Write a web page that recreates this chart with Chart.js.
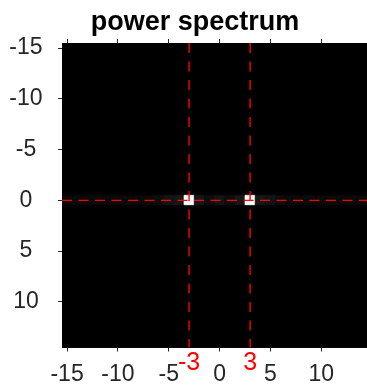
<!DOCTYPE html>
<html>
<head>
<meta charset="utf-8">
<script src="https://cdn.jsdelivr.net/npm/chart.js@4/dist/chart.umd.min.js"></script>
<style>
  html, body { margin: 0; padding: 0; background: #fff; }
  canvas { display: block; }
</style>
</head>
<body>
<canvas id="spectrum" width="367" height="385"></canvas>
<script>
// frequency bins (columns / rows of the shifted spectrum)
const colFreqs = [-15, -14, -13, -12, -11, -10, -9, -8, -7, -6, -5, -4, -3, -2, -1, 0, 1, 2, 3, 4, 5, 6, 7, 8, 9, 10, 11, 12, 13, 14];
const rowFreqs = [-15, -14, -13, -12, -11, -10, -9, -8, -7, -6, -5, -4, -3, -2, -1, 0, 1, 2, 3, 4, 5, 6, 7, 8, 9, 10, 11, 12, 13, 14];
// normalised power along row 0 (all other rows are ~0 / black)
const powerRow0 = [0.04, 0.04, 0.04, 0.04, 0.04, 0.04, 0.04, 0.04, 0.04, 0.05, 0.08, 0.09, 1.00, 0.09, 0.05, 0.08, 0.05, 0.09, 1.00, 0.09, 0.08, 0.05, 0.04, 0.04, 0.04, 0.04, 0.04, 0.04, 0.04, 0.04];
const peakX = [-3, 3];
const peakY = 0;
const xTicks = [-15, -10, -5, 0, 5, 10];
const yTicks = [-15, -10, -5, 0, 5, 10];
const xRange = [-15.5, 14.5];
const yRange = [-15.5, 14.5];

Chart.defaults.font.family = 'Liberation Sans, Arial, sans-serif';

// build cells of the image from the arrays
const cells = [];
rowFreqs.forEach(function(fy) {
  colFreqs.forEach(function(fx, i) {
    cells.push({ x: fx, y: fy, v: fy === peakY ? powerRow0[i] : 0 });
  });
});

function grey(v) {
  const g = Math.round(255 * v);
  return 'rgb(' + g + ',' + g + ',' + g + ')';
}

// cell size in pixels from the x scale
function cellRadius(ctx) {
  const s = ctx.chart.scales.x;
  if (!s) return 5;
  return Math.abs(s.getPixelForValue(1) - s.getPixelForValue(0)) / Math.SQRT2;
}

const axisColor = '#262626';

const datasets = [{
  label: 'power',
  data: cells,
  pointStyle: 'rect',
  radius: cellRadius,
  hoverRadius: cellRadius,
  backgroundColor: function(ctx) { return ctx.raw ? grey(ctx.raw.v) : '#000'; },
  borderColor: function(ctx) { return ctx.raw ? grey(ctx.raw.v) : '#000'; },
  borderWidth: 0.6,
  order: 2
}];

// dashed red guide lines through the peaks
peakX.forEach(function(px) {
  datasets.push({
    label: 'x=' + px,
    data: [{ x: px, y: yRange[0] }, { x: px, y: yRange[1] }],
    showLine: true,
    borderColor: '#ff0000',
    borderWidth: 1.4,
    borderDash: [10, 8.5],
    pointRadius: 0,
    order: 1
  });
});
datasets.push({
  label: 'y=' + peakY,
  data: [{ x: xRange[0], y: peakY }, { x: xRange[1], y: peakY }],
  showLine: true,
  borderColor: '#ff0000',
  borderWidth: 1.4,
  borderDash: [10, 6.5],
  pointRadius: 0,
  order: 1
});

// black background behind the image, title offset, red peak labels under the axis
const extras = {
  id: 'extras',
  afterLayout: function(chart) {
    // title is centred a bit right of the canvas centre
    if (chart.titleBlock) chart.titleBlock.left = 23;
  },
  beforeDatasetsDraw: function(chart) {
    const a = chart.chartArea;
    const c = chart.ctx;
    c.save();
    c.fillStyle = '#000';
    c.fillRect(a.left, a.top, a.right - a.left, a.bottom - a.top);
    c.restore();
  },
  afterDraw: function(chart) {
    const c = chart.ctx;
    const sx = chart.scales.x;
    c.save();
    c.fillStyle = '#ff0000';
    c.font = '25px Liberation Sans, Arial, sans-serif';
    c.textAlign = 'center';
    c.textBaseline = 'middle';
    peakX.forEach(function(px) {
      c.fillText(String(px), sx.getPixelForValue(px), chart.chartArea.bottom + 16);
    });
    c.restore();
  }
};

function setTicks(list) {
  return function(scale) { scale.ticks = list.map(function(v) { return { value: v }; }); };
}

new Chart(document.getElementById('spectrum'), {
  type: 'scatter',
  data: { datasets: datasets },
  plugins: [extras],
  options: {
    responsive: false,
    animation: false,
    devicePixelRatio: 1,
    events: [],
    layout: { padding: 0 },
    plugins: {
      legend: { display: false },
      tooltip: { enabled: false },
      title: {
        display: true,
        text: 'power spectrum',
        color: '#000',
        font: { size: 27, weight: 'bold' },
        padding: { top: 6.6, bottom: 0 }
      }
    },
    scales: {
      x: {
        type: 'linear',
        position: 'bottom',
        min: xRange[0],
        max: xRange[1],
        afterBuildTicks: setTicks(xTicks),
        afterFit: function(s) { s.height = 37.5; },
        ticks: { color: axisColor, font: { size: 23 }, padding: 9, maxRotation: 0 },
        grid: { drawOnChartArea: false, drawTicks: true, tickLength: 4, color: axisColor },
        border: { display: true, color: axisColor }
      },
      xTop: {
        type: 'linear',
        position: 'top',
        min: xRange[0],
        max: xRange[1],
        afterBuildTicks: setTicks(xTicks),
        afterFit: function(s) { s.height = 4; },
        ticks: { display: false },
        grid: { drawOnChartArea: false, drawTicks: true, tickLength: 4, color: axisColor },
        border: { display: true, color: axisColor }
      },
      y: {
        type: 'linear',
        position: 'left',
        reverse: true,
        min: yRange[0],
        max: yRange[1],
        afterBuildTicks: setTicks(yTicks),
        afterFit: function(s) { s.width = 62; },
        ticks: { color: axisColor, font: { size: 23 }, padding: 15.4, crossAlign: 'center' },
        grid: { drawOnChartArea: false, drawTicks: true, tickLength: 4, color: axisColor },
        border: { display: true, color: axisColor }
      }
    }
  }
});
</script>
</body>
</html>
